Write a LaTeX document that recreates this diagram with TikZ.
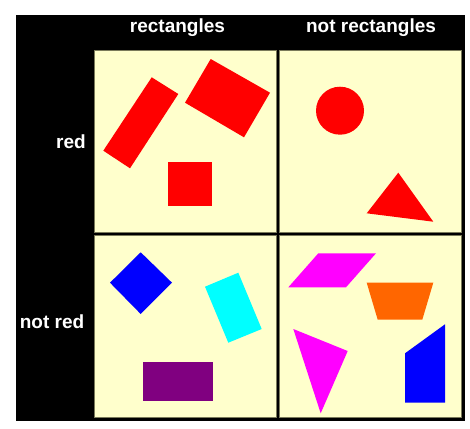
\documentclass[tikz,border=0pt]{standalone}
\usepackage{fontspec}
\setsansfont{Liberation Sans}
\usepackage{xcolor}
\usetikzlibrary{positioning}

\definecolor{cellyellow}{HTML}{FFFFCC}
\definecolor{cellline}{HTML}{7A7A5A}
\definecolor{shapered}{HTML}{FF0000}
\definecolor{shapeblue}{HTML}{0000FF}
\definecolor{shapecyan}{HTML}{00FFFF}
\definecolor{shapemagenta}{HTML}{FF00FF}
\definecolor{shapepurple}{HTML}{800080}
\definecolor{shapeorange}{HTML}{FF6600}

\begin{document}
\begin{tikzpicture}[
  x=1pt, y=-1pt,
  cell/.style={rectangle, draw=cellline, line width=0.8pt, fill=cellyellow, minimum width=182pt, minimum height=182pt, inner sep=0pt},
  heading/.style={text=white, font=\sffamily\bfseries\fontsize{19}{22}\selectfont, inner sep=0pt},
]
\useasboundingbox (0,0) rectangle (470,428);
\fill[white] (0,0) rectangle (470,428);

% Frame
\fill[black] (16,15) rectangle (465,421);

% Cells
\node[cell] (redrect) at (185.5,141.5) {};
\node[cell] (rednot) at (370.5,141.5) {};
\node[cell] (otherrect) at (185.5,326.5) {};
\node[cell] (othernot) at (370.5,326.5) {};

% Headings
\node[heading] (hrect) at (177.5,28) {rectangles};
\node[heading] (hnot) at (371,28) {not rectangles};
\node[heading, anchor=east] (hred) at (86,141.5) {red};
\node[heading] (hother) at (52,321.5) {not red};

% Red rectangles
\fill[shapered] (151.7,77.3) -- (178.3,94) -- (130,168.3) -- (103.3,150.7) -- cycle;
\fill[shapered] (210.7,59) -- (270,92.7) -- (244,137.3) -- (185,102.7) -- cycle;
\fill[shapered] (168,162.3) rectangle (212.3,206);

% Red, not rectangles
\fill[shapered] (340,110.7) circle[radius=24];
\fill[shapered] (398.3,172.7) -- (433.3,221.7) -- (366.7,213.3) -- cycle;

% Not red rectangles
\fill[shapeblue] (140.7,252.3) -- (172,282.7) -- (140.7,314) -- (110,282.7) -- cycle;
\fill[shapecyan] (205,286.7) -- (238.3,272.7) -- (261.7,329) -- (228.3,342.7) -- cycle;
\fill[shapepurple] (143.3,362) rectangle (212.7,401.3);

% Not red, not rectangles
\fill[shapemagenta] (318.3,253.3) -- (376,253.3) -- (346,287.3) -- (288.3,287.3) -- cycle;
\fill[shapeorange] (366.7,282.7) -- (433.3,282.7) -- (422.3,319.7) -- (377.7,319.7) -- cycle;
\fill[shapemagenta] (293.3,329) -- (347.7,351) -- (320.7,413.3) -- cycle;
\fill[shapeblue] (405,353.3) -- (445,324.3) -- (445,402.7) -- (405,402.7) -- cycle;

\end{tikzpicture}
\end{document}
